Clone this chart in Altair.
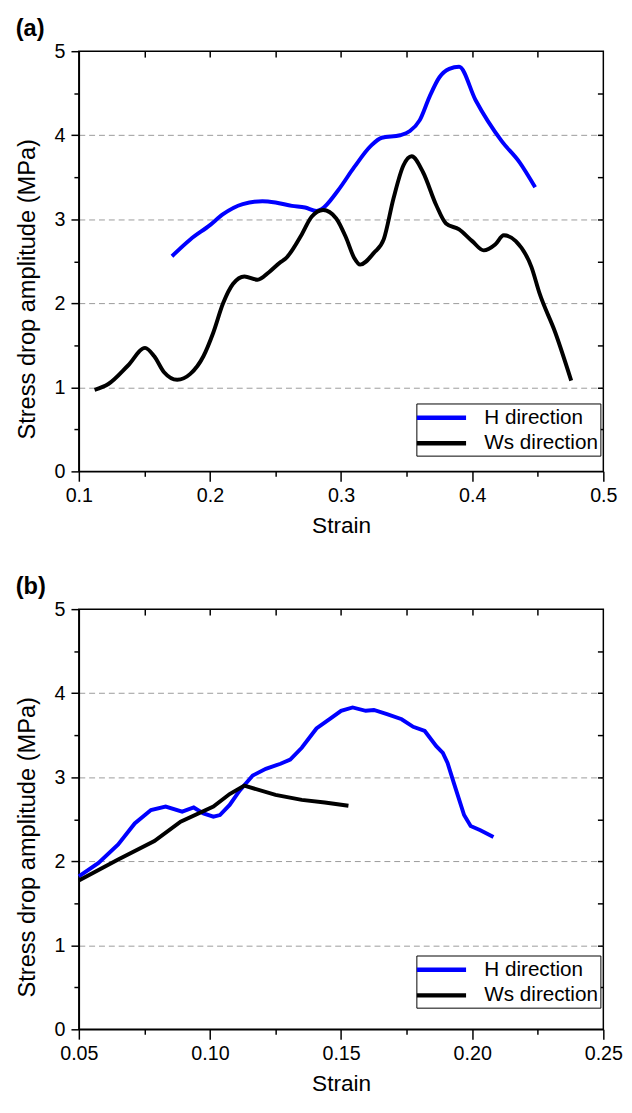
import altair as alt
import pandas as pd

# ---------------- data ----------------
# Panel (a)
a_h_strain = [0.171, 0.185, 0.200, 0.210, 0.225, 0.240, 0.250, 0.2625, 0.2725, 0.2813,
              0.285, 0.2975, 0.310, 0.3225, 0.331, 0.345, 0.3525, 0.360, 0.3675, 0.375,
              0.3825, 0.390, 0.4025, 0.4225, 0.436, 0.448]
a_h_value = [2.56, 2.76, 2.93, 3.06, 3.18, 3.215, 3.20, 3.16, 3.14, 3.10,
             3.12, 3.34, 3.62, 3.87, 3.97, 4.00, 4.05, 4.18, 4.46, 4.69,
             4.79, 4.815, 4.42, 3.93, 3.68, 3.38]
a_ws_strain = [0.112, 0.1225, 0.1375, 0.1505, 0.1575, 0.165, 0.175, 0.185, 0.195, 0.2025,
               0.210, 0.2175, 0.2263, 0.2363, 0.245, 0.2538, 0.2575, 0.270, 0.2775, 0.2863,
               0.2963, 0.3038, 0.310, 0.3145, 0.325, 0.3325, 0.340, 0.3475, 0.3538, 0.3625,
               0.3725, 0.380, 0.390, 0.400, 0.4088, 0.4175, 0.4241, 0.4332, 0.4452, 0.4513,
               0.4634, 0.4755]
a_ws_value = [0.97, 1.04, 1.26, 1.47, 1.37, 1.18, 1.09, 1.16, 1.37, 1.65,
              2.00, 2.23, 2.32, 2.28, 2.37, 2.49, 2.53, 2.82, 3.03, 3.11,
              3.01, 2.78, 2.54, 2.46, 2.60, 2.76, 3.25, 3.64, 3.75, 3.56,
              3.17, 2.95, 2.88, 2.74, 2.63, 2.70, 2.81, 2.74, 2.43, 2.12,
              1.65, 1.08]

# Panel (b)
b_h_strain = [0.050, 0.0575, 0.065, 0.0713, 0.0775, 0.0831, 0.0894, 0.0938, 0.0975, 0.1013,
              0.1038, 0.1075, 0.1113, 0.1163, 0.1213, 0.1269, 0.1306, 0.135, 0.1406, 0.1456,
              0.150, 0.1544, 0.1594, 0.1625, 0.1675, 0.1731, 0.1775, 0.1819, 0.1863, 0.1888,
              0.1906, 0.1931, 0.1969, 0.1994, 0.2031, 0.2081]
b_h_value = [1.82, 1.98, 2.20, 2.45, 2.61, 2.65, 2.59, 2.64, 2.57, 2.53,
             2.55, 2.67, 2.84, 3.02, 3.10, 3.16, 3.21, 3.35, 3.58, 3.69,
             3.79, 3.83, 3.79, 3.80, 3.75, 3.69, 3.60, 3.55, 3.37, 3.29,
             3.17, 2.92, 2.55, 2.42, 2.37, 2.29]
b_ws_strain = [0.050, 0.065, 0.0788, 0.0888, 0.1013, 0.1075, 0.1131, 0.125, 0.135, 0.1438, 0.1528]
b_ws_value = [1.77, 2.02, 2.24, 2.47, 2.65, 2.80, 2.90, 2.79, 2.73, 2.70, 2.66]

series_names = ["H direction", "Ws direction"]
series_colors = ["#0000ff", "#000000"]

a_x_domain = [0.1, 0.5]
a_x_major = [0.1, 0.2, 0.3, 0.4, 0.5]
a_x_minor = [0.15, 0.25, 0.35, 0.45]
a_x_top = [0.15, 0.2, 0.25, 0.3, 0.35, 0.4, 0.45]

b_x_domain = [0.05, 0.25]
b_x_major = [0.05, 0.10, 0.15, 0.20, 0.25]
b_x_minor = [0.075, 0.125, 0.175, 0.225]
b_x_top = [0.075, 0.10, 0.125, 0.15, 0.175, 0.20, 0.225]

y_major = [0, 1, 2, 3, 4, 5]
y_minor = [0.5, 1.5, 2.5, 3.5, 4.5]
y_right = [0.5, 1, 1.5, 2, 2.5, 3, 3.5, 4, 4.5]
y_grid = [1, 2, 3, 4]

FONT = "Liberation Sans"
PW, PH = 533, 427


def make_df(h_s, h_v, w_s, w_v):
    rows = []
    for s, v in zip(h_s, h_v):
        rows.append({"series": series_names[0], "strain": s, "value": v})
    for s, v in zip(w_s, w_v):
        rows.append({"series": series_names[1], "strain": s, "value": v})
    return pd.DataFrame(rows)


def panel(df, label, xdom, xmajor, xminor, xtop, xfmt, interp, legend_y):
    xs = alt.Scale(domain=xdom, nice=False, zero=False)
    ys = alt.Scale(domain=[0, 5], nice=False, zero=False)
    base = alt.Chart(df)

    lines = base.mark_line(strokeWidth=4, interpolate=interp).encode(
        x=alt.X("strain:Q", scale=xs,
                axis=alt.Axis(orient="bottom", values=xmajor, format=xfmt, tickSize=10,
                              labelPadding=5, title="Strain", titlePadding=9,
                              labelFlush=False, grid=False)),
        y=alt.Y("value:Q", scale=ys,
                axis=alt.Axis(orient="left", values=y_major, format="d", tickSize=8,
                              labelPadding=6, title="Stress drop amplitude (MPa)",
                              titlePadding=15, titleFontSize=24, titleY=PH / 2 + 28,
                              grid=False)),
        color=alt.Color("series:N",
                        scale=alt.Scale(domain=series_names, range=series_colors),
                        legend=alt.Legend(title=None, orient="none", legendX=343, legendY=legend_y,
                                          direction="vertical", symbolType="M-2.5,0H2.5",
                                          symbolSize=400, symbolStrokeWidth=4.5, symbolOffset=11,
                                          labelOffset=31, labelFontSize=21, labelFont=FONT,
                                          labelColor="black", labelLimit=0, padding=2,
                                          rowPadding=3, strokeColor="black", fillColor="white",
                                          cornerRadius=0)),
    )

    minor = base.mark_point(opacity=0, size=1).encode(
        x=alt.X("strain:Q", scale=xs,
                axis=alt.Axis(orient="bottom", values=xminor, tickSize=5, labels=False,
                              domain=False, title=None, grid=False)),
        y=alt.Y("value:Q", scale=ys,
                axis=alt.Axis(orient="left", values=y_minor, tickSize=5, labels=False,
                              domain=False, title=None, grid=False)),
    )

    inward = base.mark_point(opacity=0, size=1).encode(
        x=alt.X("strain:Q", scale=xs,
                axis=alt.Axis(orient="top", values=xtop, offset=-6, tickSize=6, labels=False,
                              domain=False, title=None, grid=False)),
        y=alt.Y("value:Q", scale=ys,
                axis=alt.Axis(orient="right", values=y_right, offset=-6, tickSize=6,
                              labels=False, domain=False, title=None, grid=False)),
    )

    grid = base.mark_point(opacity=0, size=1).encode(
        x=alt.X("strain:Q", scale=xs, axis=None),
        y=alt.Y("value:Q", scale=ys,
                axis=alt.Axis(orient="left", values=y_grid, grid=True, ticks=False,
                              labels=False, domain=False, title=None,
                              gridDash=[6, 4], gridColor="#9a9a9a", gridWidth=1)),
    )

    return alt.layer(grid, minor, inward, lines).resolve_axis(
        x="independent", y="independent"
    ).properties(
        width=PW, height=PH,
        title=alt.TitleParams(text=label, anchor="start", frame="bounds", fontSize=24,
                              fontWeight="bold", font=FONT, color="black", offset=0),
    )


df_a = make_df(a_h_strain, a_h_value, a_ws_strain, a_ws_value)
df_b = make_df(b_h_strain, b_h_value, b_ws_strain, b_ws_value)

pa = panel(df_a, "(a)", a_x_domain, a_x_major, a_x_minor, a_x_top, ".1f", "monotone", 358)
pb = panel(df_b, "(b)", b_x_domain, b_x_major, b_x_minor, b_x_top, ".2f", "linear", 352)

chart = alt.vconcat(pa, pb, spacing=37).resolve_scale(color="independent").resolve_legend(
    color="independent"
).properties(
    padding={"left": 7, "top": 0, "right": 0, "bottom": 0}
).configure_view(
    stroke="black", strokeWidth=1.5
).configure_axis(
    labelFont=FONT, titleFont=FONT, labelFontSize=20, titleFontSize=23,
    titleFontWeight="normal", labelColor="black", titleColor="black",
    domainColor="black", domainWidth=1.5, tickColor="black", tickWidth=1.5
)

chart.save("out.html", embed_options={"renderer": "svg", "actions": False})
